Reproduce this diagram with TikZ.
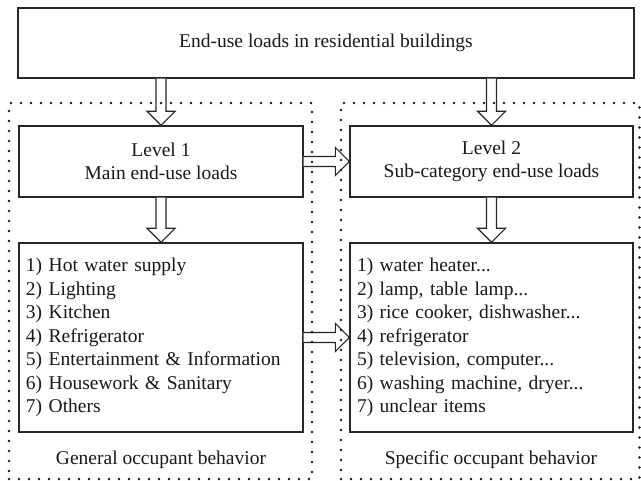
\documentclass[tikz,border=0pt]{standalone}
\usepackage{fontspec}
\setmainfont{Liberation Serif}
\usetikzlibrary{calc}
\newcommand\blockdown[2]{%
  \draw[blockarrow] let \p1=(#1), \p2=(#2) in
    (\x1-5pt,\y1) -- (\x1-5pt,\y2+14pt) -- (\x1-14pt,\y2+14pt) -- (\x2,\y2)
    -- (\x1+14pt,\y2+14pt) -- (\x1+5pt,\y2+14pt) -- (\x1+5pt,\y1);}
\newcommand\blockright[2]{%
  \draw[blockarrow] let \p1=(#1), \p2=(#2) in
    (\x1,\y1+5pt) -- (\x2-14pt,\y1+5pt) -- (\x2-14pt,\y1+14pt) -- (\x2,\y2)
    -- (\x2-14pt,\y1-14pt) -- (\x2-14pt,\y1-5pt) -- (\x1,\y1-5pt);}
\begin{document}
\begin{tikzpicture}[x=1pt,y=-1pt,
  every node/.style={font=\fontsize{19.5}{23.5}\selectfont, text=black!90},
  box/.style={draw=black!85, line width=1.3pt, inner sep=0pt, fill=white},
  listbox/.style={box, minimum width=284pt, minimum height=189pt, text width=270pt, align=left},
  lvlbox/.style={box, minimum width=284pt, minimum height=71pt, align=center},
  blockarrow/.style={draw=black!85, line width=1.2pt, fill=white, line join=miter},
  dotbox/.style={draw=black!90, line width=2.6pt, line cap=round, dash pattern=on 0pt off 10pt, inner sep=0pt},
  caption/.style={inner sep=0pt}]
\useasboundingbox (0,0) rectangle (641,481);
\node[box, minimum width=616pt, minimum height=70pt] (top) at (326,43) {End-use loads in residential buildings};
\node[lvlbox] (lv1) at (161,161.5) {Level 1\\Main end-use loads};
\node[lvlbox, minimum width=283pt] (lv2) at (491.5,161.5) {Level 2\\Sub-category end-use loads};
\node[listbox] (l1) at (161,337.5) {1) Hot water supply\\2) Lighting\\3) Kitchen\\4) Refrigerator\\5) Entertainment \& Information\\6) Housework \& Sanitary\\7) Others};
\node[listbox, minimum width=283pt, text width=269pt] (l2) at (491.5,337.5) {1) water heater...\\2) lamp, table lamp...\\3) rice cooker, dishwasher...\\4) refrigerator\\5) television, computer...\\6) washing machine, dryer...\\7) unclear items};
\node[caption] (c1) at (161,460) {General occupant behavior};
\node[caption] (c2) at (491,460) {Specific occupant behavior};
\blockdown{top.south -| lv1.north}{lv1.north}
\blockdown{top.south -| lv2.north}{lv2.north}
\blockdown{lv1.south}{l1.north}
\blockdown{lv2.south}{l2.north}
\blockright{lv1.east}{lv2.west}
\blockright{l1.east}{l2.west}
\node[dotbox, minimum width=303pt, minimum height=376pt] (g1) at (160.5,291) {};
\node[dotbox, minimum width=298.5pt, minimum height=376pt] (g2) at (490.25,291) {};
\end{tikzpicture}
\end{document}
